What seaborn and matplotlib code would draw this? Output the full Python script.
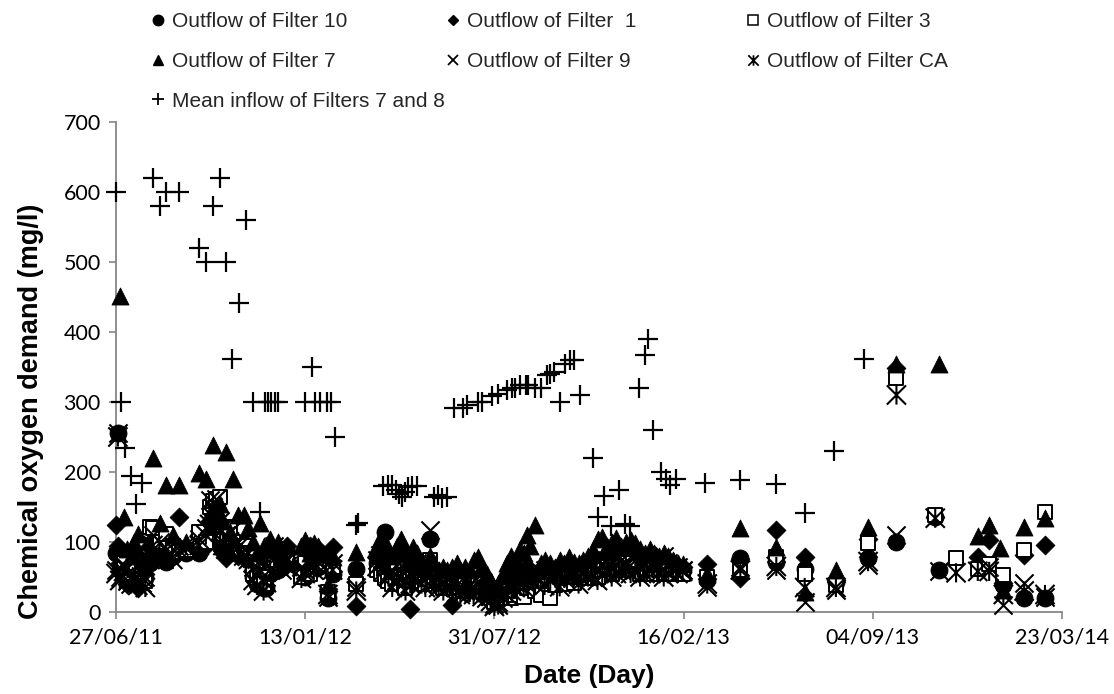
import numpy as np
import pandas as pd
import matplotlib
matplotlib.use("Agg")
import matplotlib.pyplot as plt
import matplotlib.dates as mdates
from matplotlib.lines import Line2D
from matplotlib.markers import MarkerStyle
from matplotlib.path import Path
import seaborn as sns

nan = np.nan
START = pd.Timestamp("2011-06-27")

# Outflow sampling, days after 27/06/11
outflow_days = [
    0, 2, 4, 8, 12, 16, 19, 23, 27, 31, 36, 39, 46, 53, 60, 67, 74,
    88, 95, 99, 103, 106, 110, 113, 116, 120, 124, 129, 135, 140, 145, 149, 152, 156, 159, 163, 167, 171, 176, 181,
    196, 200, 205, 209, 214, 219, 224, 229, 254,
    276, 280, 284, 288, 292, 297, 301, 306, 311, 314, 318, 323, 327, 332, 336, 341, 346, 350, 355, 360,
    364, 369, 374, 378, 383, 387, 392, 396, 400, 404, 409, 413, 418, 422, 427, 431, 434, 438, 443, 449,
    453, 459, 464, 469, 474, 479, 484, 489, 494, 499, 504, 509, 514, 519, 524, 529, 534, 539, 544, 549,
    554, 559, 564, 569, 574, 579, 584, 589, 594, 599,
    625, 660, 698, 728, 761, 795, 825, 866, 870, 888, 911, 923, 934, 938, 960, 982,
]

filter10 = [
    85, 256, 60, 55, 50, 45, 60, 40, 50, 48, 70, 100, 90, 72, 80, 90, 85,
    84, 105, 120, 110, 125, 95, 90, 85, 100, 90, 95, 80, 75, 50, 40, 45, 35, 34, 55, 70, 60, 65, 70,
    55, 50, 60, 62, 65, 70, 20, 55, 62,
    70, 60, 115, 50, 45, 60, 55, 40, 50, 45, 60, 55, 45, 105, 50, 45, 40, 45, 50, 40,
    35, 45, 40, 35, 45, 40, 30, 25, 15, 20, 30, 35, 40, 45, 50, 45, 50, 55, 45, 50,
    55, 50, 55, 60, 55, 58, 60, 55, 62, 58, 60, 55, 65, 70, 60, 65, 70, 75, 65, 70,
    60, 65, 70, 60, 65, 60, 70, 65, 64, 60,
    46, 77, 72, 62, 43, 77, 100, 136, 60, nan, nan, nan, nan, 38, 20, 20,
]

filter1 = [
    124, 95, 70, 80, 40, 60, 85, 34, 45, 55, 95, 80, 110, 95, 85, 136, 90,
    110, 95, 130, 140, 120, 100, 85, 77, 95, 105, 80, 100, 90, 60, 45, 80, 50, 55, 75, 85, 80, 70, 95,
    60, 75, 95, 85, 90, 80, 30, 93, 9,
    80, 90, 75, 65, 55, 70, 85, 60, 5, 60, 75, 50, 55, 60, 45, 55, 50, 40, 10, 45,
    40, 50, 45, 40, 50, 45, 35, 30, 20, 25, 35, 45, 50, 55, 60, 55, 65, 60, 55, 60,
    65, 55, 60, 65, 60, 65, 62, 60, 68, 65, 70, 65, 75, 80, 70, 75, 85, 80, 75, 80,
    70, 75, 80, 75, 70, 75, 65, 70, 60, 65,
    68, 48, 117, 79, 46, 105, 348, 136, nan, nan, 79, 103, nan, 41, 81, 96,
]

filter3 = [
    nan, nan, nan, 70, 55, 48, 65, 50, 60, 45, 122, 120, 100, 112, 95, 86, 88,
    115, 100, 150, 158, 162, 165, 110, 122, 120, 100, 90, 95, 85, 55, 48, 65, 40, 60, 70, 75, 90, 75, 80,
    50, 70, 55, 65, 72, 68, 28, 65, 40,
    60, 55, 48, 45, 40, 65, 50, 35, 45, 50, 55, 45, 40, 74, 45, 50, 35, 40, 45, 35,
    30, 40, 35, 30, 40, 30, 25, 20, 15, 18, 25, 30, 20, 25, 30, 22, 35, 40, 30, 24,
    45, 20, 38, 50, 40, 50, 42, 50, 55, 48, 55, 50, 60, 65, 55, 60, 65, 70, 60, 65,
    55, 60, 65, 55, 60, 55, 60, 55, 60, 55,
    50, 60, 79, 55, 39, 98, 334, 138, nan, 77, 62, 69, nan, 53, 89, 143,
]

filter7 = [
    nan, nan, 451, 136, 90, 80, 100, 112, 75, 65, 85, 220, 127, 181, 110, 181, 100,
    199, 190, 140, 239, 150, 155, 130, 229, 115, 190, 139, 139, 120, 100, 85, 127, 95, 90, 105, 90, 100, 85, 95,
    95, 103, 85, 98, 95, 85, 38, 78, 86,
    95, 107, 100, 85, 80, 95, 105, 90, 80, 93, 85, 70, 65, 80, 70, 60, 65, 60, 65, 70,
    60, 65, 60, 75, 79, 65, 55, 45, 35, 40, 55, 70, 80, 75, 90, 85, 110, 95, 124, 70,
    75, 70, 65, 75, 70, 78, 72, 70, 75, 80, 89, 105, 107, 95, 100, 106, 95, 100, 103, 98,
    90, 85, 90, 85, 80, 85, 80, 75, 70, 68,
    55, 120, 93, 29, 60, 122, 355, nan, 355, nan, 108, 124, 91, 31, 122, 134,
]

filter9 = [
    60, 256, 50, 65, 45, 50, 55, 45, 42, 50, 80, 110, 100, 80, 90, 95, 92,
    105, 120, 160, 150, 162, 130, 100, 110, 115, 95, 100, 90, 85, 65, 55, 70, 45, 50, 80, 95, 70, 60, 75,
    65, 60, 75, 70, 80, 65, 22, 70, 36,
    75, 70, 65, 55, 60, 50, 75, 45, 55, 60, 70, 50, 55, 117, 45, 50, 40, 50, 45, 40,
    35, 45, 40, 35, 45, 35, 30, 25, 12, 15, 30, 40, 45, 50, 55, 50, 55, 50, 60, 55,
    60, 50, 55, 55, 50, 60, 55, 52, 60, 55, 65, 60, 70, 75, 65, 80, 75, 70, 80, 75,
    65, 70, 75, 70, 65, 80, 70, 60, 65, 60,
    36, 65, 60, 15, 31, 67, 110, nan, 58, nan, nan, 65, nan, 10, 41, 22,
]

filter_ca = [
    55, 250, 45, 58, 62, 40, 48, 38, 50, 35, 75, 95, 85, 88, 75, 88, 95,
    95, 110, 125, 135, 140, 115, 95, 90, 100, 85, 92, 80, 75, 45, 38, 60, 30, 42, 60, 75, 85, 70, 65,
    48, 55, 70, 60, 72, 75, 25, 60, 30,
    65, 80, 60, 50, 35, 45, 60, 30, 40, 50, 65, 40, 35, 55, 40, 35, 30, 35, 40, 28,
    25, 30, 28, 25, 30, 22, 20, 15, 8, 10, 20, 25, 30, 35, 40, 35, 40, 45, 40, 45,
    38, 45, 50, 36, 48, 52, 50, 40, 55, 50, 50, 45, 55, 60, 50, 55, 60, 65, 55, 60,
    50, 55, 60, 65, 55, 50, 55, 60, 55, 58,
    40, 60, 65, 35, 35, 72, 310, 134, nan, 56, 58, 58, nan, 25, 30, 25,
]

# Mean inflow of filters 7 and 8
inflow_days = [
    0, 5, 10, 16, 21, 27, 39, 46, 53, 67, 88, 95, 103, 110, 116, 123, 130, 137,
    145, 152, 157, 161, 164, 168, 171, 200, 207, 210, 216, 223, 227, 231, 254, 256,
    282, 287, 292, 296, 299, 302, 305, 309, 313, 318, 336, 340, 345, 350,
    357, 367, 371, 383, 387, 397, 404, 413, 419, 422, 427, 433, 436, 443, 449,
    456, 459, 463, 469, 475, 480, 484, 490, 504, 510, 516, 523, 532, 538, 543,
    553, 559, 562, 568, 576, 581, 586, 592, 623, 660, 698, 728, 759, 791,
]
inflow_mean = [
    600, 300, 234, 195, 155, 184, 620, 580, 600, 600, 520, 500, 580, 620, 500, 361, 441, 560,
    300, 143, 300, 300, 300, 300, 300, 300, 350, 300, 300, 300, 300, 250, 124, 127,
    180, 181, 182, 175, 168, 165, 172, 178, 180, 180, 165, 167, 163, 165,
    292, 292, 296, 300, 300, 308, 311, 317, 320, 320, 324, 324, 325, 320, 320,
    339, 340, 343, 300, 355, 360, 360, 310, 220, 136, 166, 123, 174, 126, 123,
    320, 367, 390, 260, 200, 190, 181, 190, 185, 189, 183, 142, 230, 361,
]

tick_days = [0, 200, 400, 600, 800, 1000]
y_ticks = [0, 100, 200, 300, 400, 500, 600, 700]

sns.set_theme(style="white")
plt.rcParams["font.family"] = ["Liberation Sans", "DejaVu Sans"]

# asterisk made of an X and a vertical stroke
star_marker = MarkerStyle(Path(
    [(-1, -1), (1, 1), (-1, 1), (1, -1), (0, -1), (0, 1)],
    [Path.MOVETO, Path.LINETO, Path.MOVETO, Path.LINETO, Path.MOVETO, Path.LINETO],
))

series = [
    ("Outflow of Filter 10", filter10,
     dict(marker="o", s=150, color="black", edgecolor="black", linewidth=0.6)),
    ("Outflow of Filter  1", filter1,
     dict(marker="D", s=92, color="black", edgecolor="black", linewidth=0.6)),
    ("Outflow of Filter 3", filter3,
     dict(marker="s", s=100, color="black", facecolor="white", edgecolor="black", linewidth=1.4)),
    ("Outflow of Filter 7", filter7,
     dict(marker="^", s=150, color="black", edgecolor="black", linewidth=0.6)),
    ("Outflow of Filter 9", filter9,
     dict(marker="x", s=170, color="black", linewidth=1.5)),
    ("Outflow of Filter CA", filter_ca,
     dict(marker=star_marker, s=190, color="black", facecolor="none", edgecolor="black", linewidth=1.5)),
]

W, H = 1114, 694
fig = plt.figure(figsize=(W / 100, H / 100), dpi=100, facecolor="white")
ax = fig.add_axes([116 / W, 82 / H, 946 / W, 490 / H])

dates = START + pd.to_timedelta(np.asarray(outflow_days, dtype=float), unit="D")
for label, values, style in series:
    frame = pd.DataFrame({"date": dates, "cod": np.asarray(values, dtype=float)}).dropna()
    sns.scatterplot(data=frame, x="date", y="cod", ax=ax, legend=False,
                    clip_on=False, zorder=3, **style)

inflow = pd.DataFrame({
    "date": START + pd.to_timedelta(np.asarray(inflow_days, dtype=float), unit="D"),
    "cod": inflow_mean,
})
sns.scatterplot(data=inflow, x="date", y="cod", ax=ax, legend=False, clip_on=False,
                zorder=3, marker="+", s=190, color="black", linewidth=1.6)

# axes
ax.set_xlim(START, START + pd.Timedelta(days=1000))
ax.set_xticks([START + pd.Timedelta(days=d) for d in tick_days])
ax.xaxis.set_major_formatter(mdates.DateFormatter("%d/%m/%y"))
ax.set_ylim(0, 700)
ax.set_yticks(y_ticks)
ax.grid(False)
for side in ("top", "right"):
    ax.spines[side].set_visible(False)
for side in ("left", "bottom"):
    ax.spines[side].set_color("#868686")
    ax.spines[side].set_linewidth(1.3)
    ax.spines[side].set_zorder(2)
ax.tick_params(axis="both", which="major", direction="out", length=5, width=1.2,
               color="#868686", labelsize=15.5, labelcolor="black", pad=6,
               labelfontfamily="Lato")
ax.tick_params(axis="x", bottom=True)
ax.tick_params(axis="y", left=True)

ax.set_xlabel("Date (Day)", fontsize=19, fontweight="bold", color="black")
ax.set_ylabel("Chemical oxygen demand (mg/l)", fontsize=19.5, fontweight="bold", color="black")
ax.xaxis.set_label_coords(0.5, -0.107)
ax.yaxis.set_label_coords(-0.076, 0.41)

# legend in three columns above the plot
def handle(marker, ms, mfc="black", mew=1.0):
    return Line2D([], [], linestyle="none", marker=marker, markersize=ms,
                  markerfacecolor=mfc, markeredgecolor="black", markeredgewidth=mew,
                  color="black")

h10 = handle("o", 7.5)
h1 = handle("D", 5.2)
h3 = handle("s", 6.5, mfc="white", mew=1.1)
h7 = handle("^", 7.5)
h9 = handle("x", 6.5, mew=1.3)
hca = handle(star_marker, 7.5, mfc="none", mew=1.3)
hin = handle("+", 8.5, mew=1.3)

columns = [
    ([h10, h7, hin], ["Outflow of Filter 10", "Outflow of Filter 7", "Mean inflow of Filters 7 and 8"], 152),
    ([h1, h9], ["Outflow of Filter  1", "Outflow of Filter 9"], 447),
    ([h3, hca], ["Outflow of Filter 3", "Outflow of Filter CA"], 747),
]
for handles, labels, x_px in columns:
    fig.legend(handles, labels, loc="upper left", bbox_to_anchor=(x_px / W, 1 - 12 / H),
               frameon=False, fontsize=15, handlelength=0.6, handletextpad=0.35,
               labelspacing=1.0, borderpad=0, borderaxespad=0)

fig.savefig("out.png", dpi=100, facecolor="white")
